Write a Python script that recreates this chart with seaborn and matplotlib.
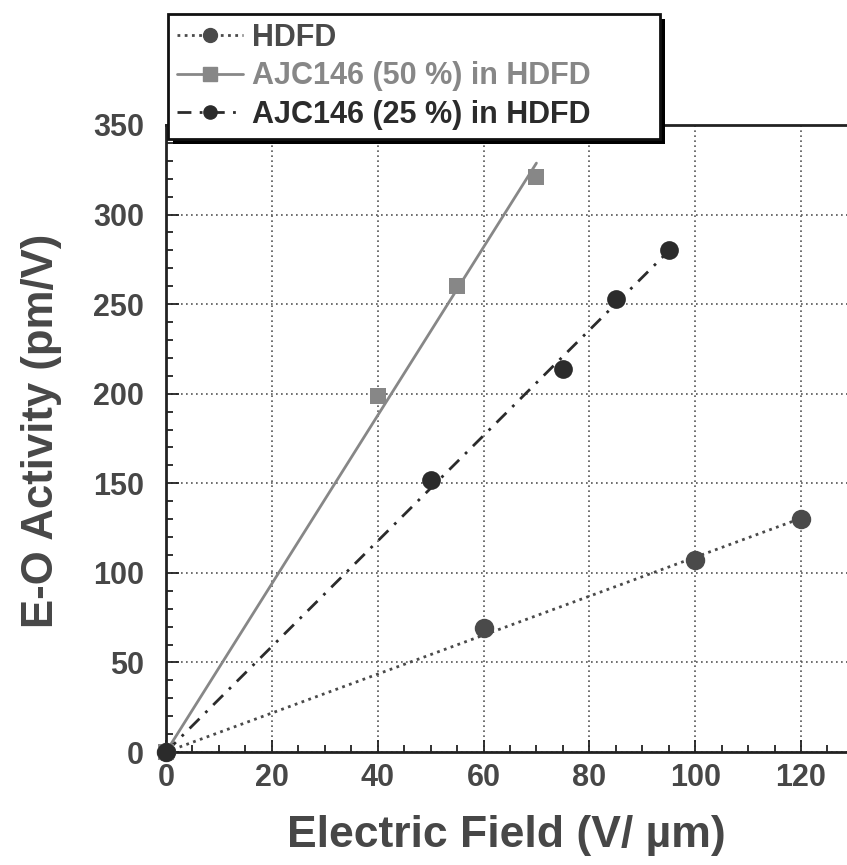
import numpy as np
import pandas as pd
import matplotlib
matplotlib.use("Agg")
import matplotlib.pyplot as plt
from matplotlib.ticker import MultipleLocator
from matplotlib.lines import Line2D
from matplotlib.patches import Rectangle
import seaborn as sns

# ---- data ----
series_names = ["HDFD", "AJC146 (50 %) in HDFD", "AJC146 (25 %) in HDFD"]
hdfd_x = [0, 60, 100, 120]
hdfd_y = [0, 69, 107, 130]
ajc50_x = [0, 40, 55, 70]
ajc50_y = [0, 199, 260, 321]
ajc25_x = [0, 50, 75, 85, 95]
ajc25_y = [0, 152, 214, 253, 280]
x_ticks = [0, 20, 40, 60, 80, 100, 120]
y_ticks = [0, 50, 100, 150, 200, 250, 300, 350]

sns.set_theme(style="white")
plt.rcParams['font.family'] = ['Liberation Sans', 'DejaVu Sans']
plt.rcParams['font.weight'] = 'bold'
TXT = "#474747"

W, H = 847, 865
fig = plt.figure(figsize=(W / 100, H / 100), dpi=100)
ax = fig.add_axes([166 / W, (H - 752) / H, 1 - 166 / W, (752 - 125) / H])

styles = [
    dict(x=hdfd_x, y=hdfd_y, color="#4a4a4a", ls=(0, (1, 1.6)), lw=2.0, marker="o", ms=14, lms=10),
    dict(x=ajc50_x, y=ajc50_y, color="#878787", ls="-", lw=2.0, marker="s", ms=12, lms=9.5),
    dict(x=ajc25_x, y=ajc25_y, color="#2b2b2b", ls=(0, (5, 3, 1, 3)), lw=2.0, marker="o", ms=13.5, lms=9.5),
]

handles = []
for name, s in zip(series_names, styles):
    x = np.array(s["x"], float)
    y = np.array(s["y"], float)
    slope = (x * y).sum() / (x * x).sum()  # least-squares line through origin
    fx = np.array([0, x.max()])
    df_fit = pd.DataFrame({"x": fx, "y": slope * fx})
    sns.lineplot(data=df_fit, x="x", y="y", ax=ax, color=s["color"],
                 linestyle=s["ls"], lw=s["lw"], legend=False, zorder=3)
    df_pts = pd.DataFrame({"x": x, "y": y})
    sns.scatterplot(data=df_pts, x="x", y="y", ax=ax, color=s["color"],
                    marker=s["marker"], s=s["ms"] ** 2, edgecolor=s["color"],
                    linewidth=0, legend=False, zorder=4, clip_on=False)
    handles.append(Line2D([], [], color=s["color"], ls=s["ls"], lw=s["lw"],
                          marker=s["marker"], ms=s["lms"], label=name))

ax.set_xlim(0, (W - 166) / ((801 - 166) / 120))
ax.set_ylim(0, 350)
ax.set_xticks(x_ticks)
ax.set_yticks(y_ticks)
ax.xaxis.set_minor_locator(MultipleLocator(5))
ax.yaxis.set_minor_locator(MultipleLocator(10))
ax.tick_params(which="both", direction="in", color="#222222", width=1.3)
ax.tick_params(which="major", length=9, labelsize=22, labelcolor=TXT)
ax.tick_params(which="minor", length=5)
ax.tick_params(axis="x", which="major", pad=8)
ax.tick_params(axis="y", which="major", pad=16)
ax.tick_params(axis="x", which="both", top=False, bottom=True)
ax.tick_params(axis="y", which="both", left=True, right=False)
for lab in ax.get_xticklabels() + ax.get_yticklabels():
    lab.set_fontweight("bold")

ax.grid(True, which="major", color="#555555", linestyle=(0, (1, 2)), linewidth=1.2)
ax.set_axisbelow(True)
for side in ["left", "bottom", "top"]:
    ax.spines[side].set_visible(True)
    ax.spines[side].set_color("#222222")
    ax.spines[side].set_linewidth(2)
ax.spines["right"].set_visible(False)

ax.set_xlabel("Electric Field (V/ µm)", fontsize=32, fontweight="bold", color=TXT)
ax.set_ylabel("E-O Activity (pm/V)", fontsize=31.5, fontweight="bold", color=TXT)
ax.xaxis.set_label_coords(0.5, -(815 - 752) / (752 - 125))
ax.yaxis.set_label_coords((62 - 166) / (W - 166), (752 - 431) / (752 - 125))

leg = fig.legend(handles=handles, loc="upper left",
                 bbox_to_anchor=(168 / W, 1 - 137 / H, 492 / W, 123 / H), mode="expand",
                 frameon=True, fancybox=False, shadow=False,
                 fontsize=22, handlelength=2.15, handletextpad=0.3, borderpad=0.3,
                 labelspacing=0.27, borderaxespad=0)
leg.get_frame().set_edgecolor("#111111")
leg.get_frame().set_linewidth(2)
leg.get_frame().set_facecolor("white")
leg.get_frame().set_alpha(1.0)
leg.set_zorder(10)
for t, s in zip(leg.get_texts(), styles):
    t.set_color(s["color"])
    t.set_fontweight("bold")

# solid drop shadow behind the legend box
fig.canvas.draw()
bb = leg.get_frame().get_window_extent()
shadow = Rectangle((bb.x0 + 5, bb.y0 - 5), bb.width, bb.height, transform=None,
                   facecolor="black", edgecolor="none", zorder=9)
fig.add_artist(shadow)

fig.savefig("out.png", dpi=100)
